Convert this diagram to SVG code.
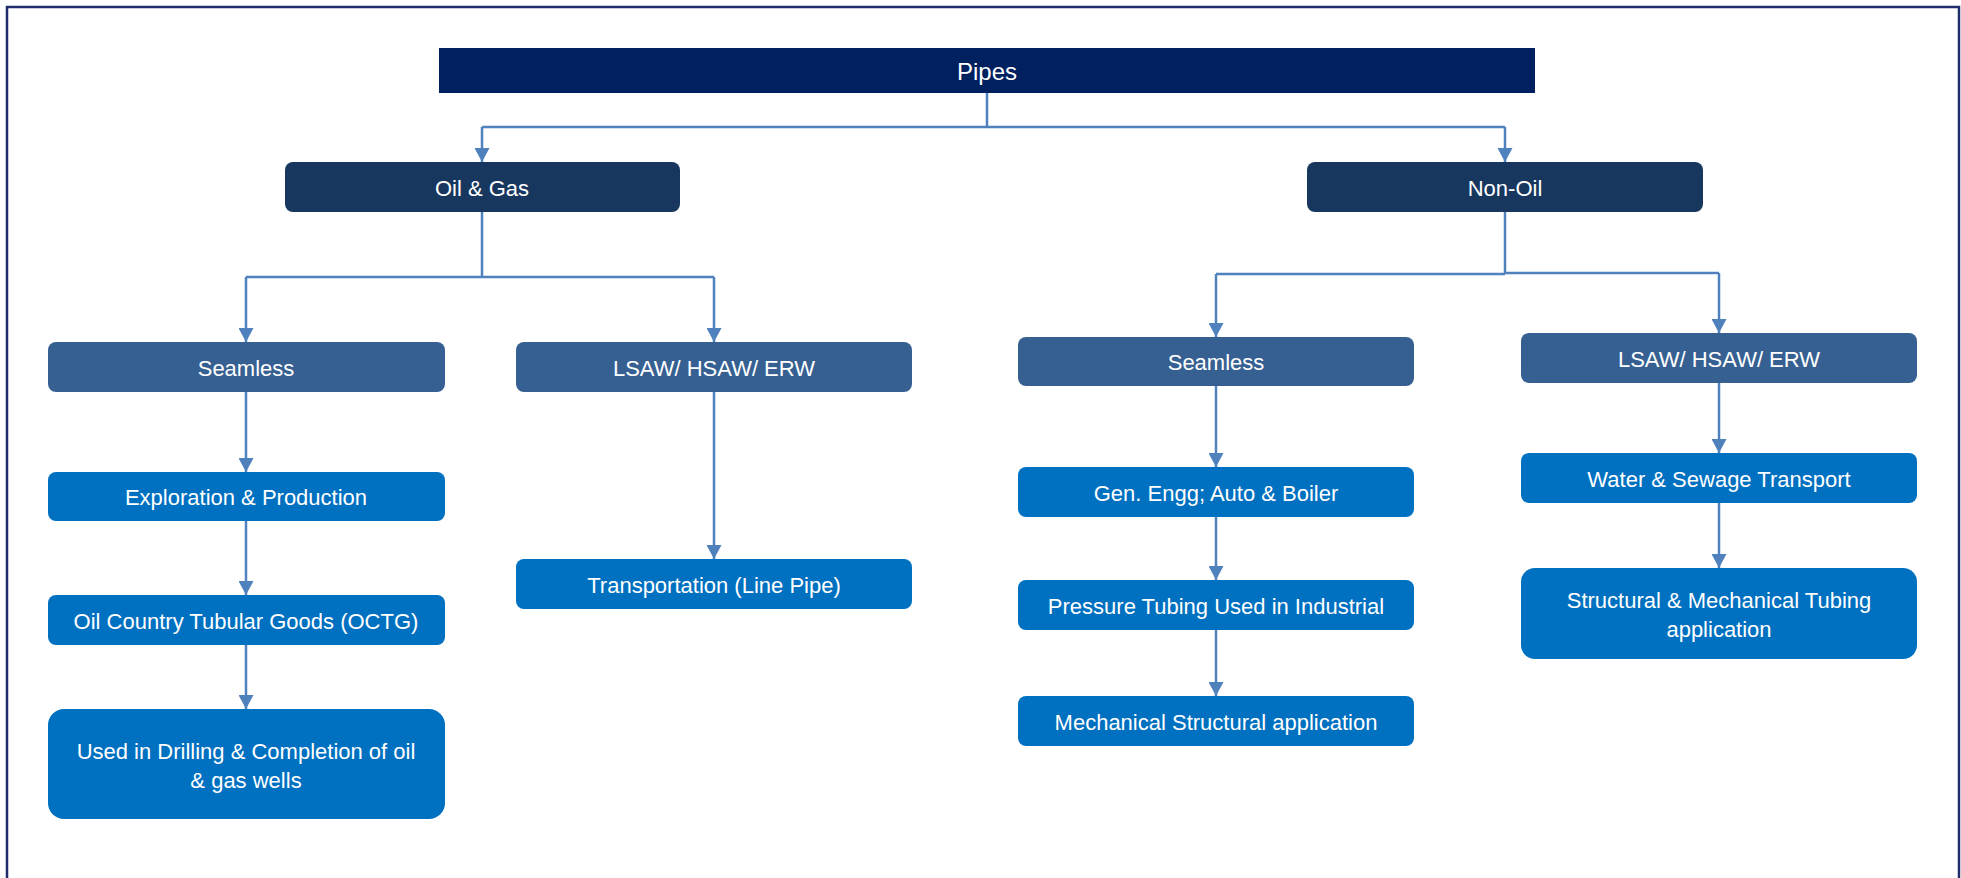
<svg xmlns="http://www.w3.org/2000/svg" width="1961" height="878" viewBox="0 0 1961 878">
<defs>
<style>
.t{font-family:"Liberation Sans",Arial,sans-serif;fill:#ffffff;text-anchor:middle;dominant-baseline:central;font-size:22px}
.c{fill:none;stroke:#4f81bd;stroke-width:2.5}
.l1{fill:#17375e}
.l2{fill:#376092}
.l3{fill:#0070c0}
</style>
<marker id="ad" markerWidth="16" markerHeight="15" refX="15" refY="8" orient="auto" markerUnits="userSpaceOnUse" viewBox="0 0 15 16">
<path d="M0,0 L15,8 L0,16 Z" fill="#4f81bd"/>
</marker>
</defs>
<rect width="1961" height="878" fill="#ffffff"/>
<path d="M7,878 V7 H1959 V878" fill="none" stroke="#1f2d6b" stroke-width="2.5"/>

<g id="connectors">
<path class="c" d="M987,93 V127"/>
<path class="c" d="M482,127 H1505"/>
<path class="c" d="M482,127 V162" marker-end="url(#ad)"/>
<path class="c" d="M1505,127 V162" marker-end="url(#ad)"/>
<path class="c" d="M482,212 V277"/>
<path class="c" d="M246,277 H714"/>
<path class="c" d="M246,277 V342" marker-end="url(#ad)"/>
<path class="c" d="M714,277 V342" marker-end="url(#ad)"/>
<path class="c" d="M246,392 V472" marker-end="url(#ad)"/>
<path class="c" d="M246,521 V595" marker-end="url(#ad)"/>
<path class="c" d="M246,645 V709" marker-end="url(#ad)"/>
<path class="c" d="M714,392 V559" marker-end="url(#ad)"/>
<path class="c" d="M1505,212 V274"/>
<path class="c" d="M1216,274 H1505"/>
<path class="c" d="M1505,273 H1719"/>
<path class="c" d="M1216,274 V337" marker-end="url(#ad)"/>
<path class="c" d="M1719,273 V333" marker-end="url(#ad)"/>
<path class="c" d="M1216,386 V467" marker-end="url(#ad)"/>
<path class="c" d="M1216,517 V580" marker-end="url(#ad)"/>
<path class="c" d="M1216,630 V696" marker-end="url(#ad)"/>
<path class="c" d="M1719,383 V453" marker-end="url(#ad)"/>
<path class="c" d="M1719,503 V568" marker-end="url(#ad)"/>
</g>

<g id="pipes">
<rect x="439" y="48" width="1096" height="45" fill="#002060"/>
<text class="t" x="987" y="71" style="font-size:24px">Pipes</text>
</g>
<g id="oilgas">
<rect class="l1" x="285" y="162" width="395" height="50" rx="8"/>
<text class="t" x="482" y="188">Oil &amp; Gas</text>
</g>
<g id="nonoil">
<rect class="l1" x="1307" y="162" width="396" height="50" rx="8"/>
<text class="t" x="1505" y="188">Non-Oil</text>
</g>
<g id="seamless-og">
<rect class="l2" x="48" y="342" width="397" height="50" rx="8"/>
<text class="t" x="246" y="368">Seamless</text>
</g>
<g id="lsaw-og">
<rect class="l2" x="516" y="342" width="396" height="50" rx="8"/>
<text class="t" x="714" y="368">LSAW/ HSAW/ ERW</text>
</g>
<g id="exploration">
<rect class="l3" x="48" y="472" width="397" height="49" rx="8"/>
<text class="t" x="246" y="497">Exploration &amp; Production</text>
</g>
<g id="octg">
<rect class="l3" x="48" y="595" width="397" height="50" rx="8"/>
<text class="t" x="246" y="621">Oil Country Tubular Goods (OCTG)</text>
</g>
<g id="drilling">
<rect class="l3" x="48" y="709" width="397" height="110" rx="16"/>
<text class="t" x="246" y="751">Used in Drilling &amp; Completion of oil</text>
<text class="t" x="246" y="780">&amp; gas wells</text>
</g>
<g id="transportation">
<rect class="l3" x="516" y="559" width="396" height="50" rx="8"/>
<text class="t" x="714" y="585">Transportation (Line Pipe)</text>
</g>
<g id="seamless-no">
<rect class="l2" x="1018" y="337" width="396" height="49" rx="8"/>
<text class="t" x="1216" y="362">Seamless</text>
</g>
<g id="lsaw-no">
<rect class="l2" x="1521" y="333" width="396" height="50" rx="8"/>
<text class="t" x="1719" y="359">LSAW/ HSAW/ ERW</text>
</g>
<g id="geneng">
<rect class="l3" x="1018" y="467" width="396" height="50" rx="8"/>
<text class="t" x="1216" y="493">Gen. Engg; Auto &amp; Boiler</text>
</g>
<g id="pressure">
<rect class="l3" x="1018" y="580" width="396" height="50" rx="8"/>
<text class="t" x="1216" y="606">Pressure Tubing Used in Industrial</text>
</g>
<g id="mechstruct">
<rect class="l3" x="1018" y="696" width="396" height="50" rx="8"/>
<text class="t" x="1216" y="722">Mechanical Structural application</text>
</g>
<g id="water">
<rect class="l3" x="1521" y="453" width="396" height="50" rx="8"/>
<text class="t" x="1719" y="479">Water &amp; Sewage Transport</text>
</g>
<g id="structmech">
<rect class="l3" x="1521" y="568" width="396" height="91" rx="14"/>
<text class="t" x="1719" y="600">Structural &amp; Mechanical Tubing</text>
<text class="t" x="1719" y="629">application</text>
</g>
</svg>
